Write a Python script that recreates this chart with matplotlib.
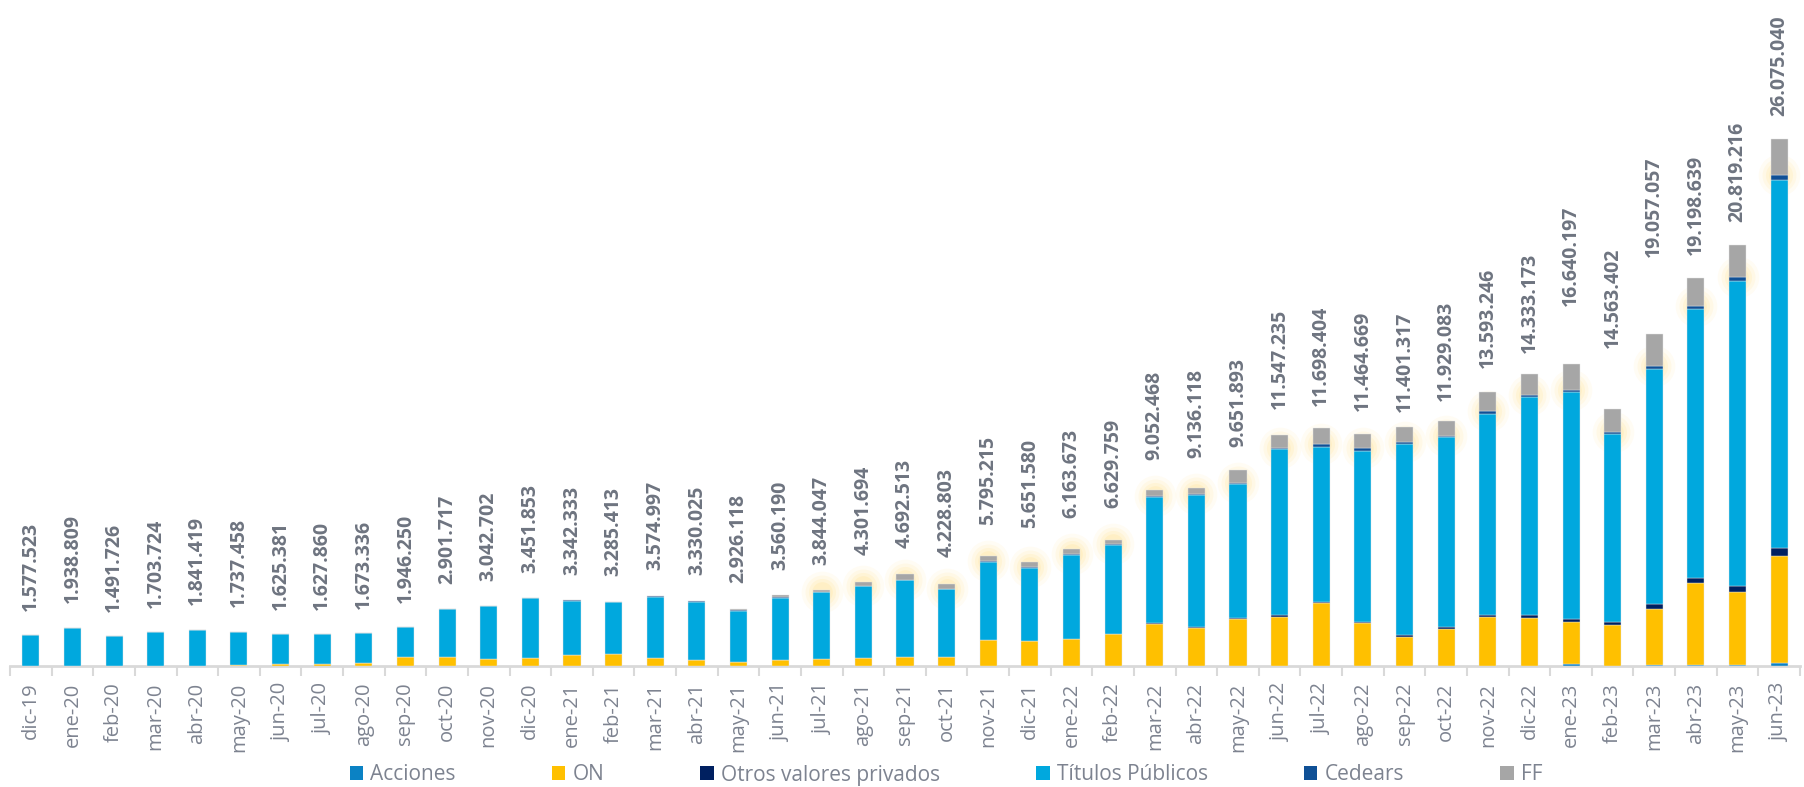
import matplotlib
matplotlib.use('Agg')
import matplotlib.pyplot as plt
import numpy as np
from matplotlib.patches import Patch

# meses
months = ['dic-19', 'ene-20', 'feb-20', 'mar-20', 'abr-20', 'may-20', 'jun-20', 'jul-20',
          'ago-20', 'sep-20', 'oct-20', 'nov-20', 'dic-20', 'ene-21', 'feb-21', 'mar-21',
          'abr-21', 'may-21', 'jun-21', 'jul-21', 'ago-21', 'sep-21', 'oct-21', 'nov-21',
          'dic-21', 'ene-22', 'feb-22', 'mar-22', 'abr-22', 'may-22', 'jun-22', 'jul-22',
          'ago-22', 'sep-22', 'oct-22', 'nov-22', 'dic-22', 'ene-23', 'feb-23', 'mar-23',
          'abr-23', 'may-23', 'jun-23']

# millones
acciones = [0.01] * 37 + [0.10, 0.01, 0.05, 0.05, 0.05, 0.16]
on = [0, 0, 0, 0, 0, 0.02, 0.10, 0.10, 0.16, 0.43, 0.43, 0.33, 0.38, 0.53, 0.56, 0.41,
      0.31, 0.18, 0.28, 0.33, 0.41, 0.46, 0.46, 1.27, 1.22, 1.35, 1.55, 2.09, 1.85, 2.31,
      2.44, 3.10, 2.11, 1.44, 1.82, 2.41, 2.38, 2.08, 2.01, 2.77, 4.06, 3.61, 5.28]
otros = [0] * 26 + [0.02, 0.05, 0.05, 0.05, 0.06, 0.06, 0.06, 0.06, 0.08, 0.10, 0.15,
                    0.16, 0.15, 0.26, 0.26, 0.31, 0.40]
titulos = [1.53, 1.88, 1.47, 1.65, 1.78, 1.66, 1.47, 1.47, 1.44, 1.47, 2.38, 2.62, 2.97,
           2.69, 2.59, 2.99, 2.84, 2.55, 3.08, 3.30, 3.53, 3.78, 3.33, 3.85, 3.60, 4.12,
           4.42, 6.22, 6.57, 6.65, 8.23, 7.69, 8.47, 9.49, 9.44, 9.98, 10.76, 11.21, 9.32,
           11.63, 13.30, 15.08, 18.23]
cedears = [0] * 8 + [0.02] * 7 + [0.05, 0.05, 0.03, 0.03, 0.03, 0.03, 0.03, 0.03, 0.05,
                                  0.05, 0.05, 0.05, 0.05, 0.05, 0.06, 0.06, 0.13, 0.13,
                                  0.10, 0.06, 0.12, 0.10, 0.11, 0.10, 0.13, 0.15, 0.20, 0.23]
ff = [0] * 17 + [0.06, 0.10, 0.11, 0.20, 0.26, 0.25, 0.26, 0.25, 0.25, 0.21, 0.30, 0.26,
                 0.63, 0.64, 0.81, 0.69, 0.71, 0.71, 0.92, 1.07, 1.29, 1.14, 1.58, 1.37,
                 1.57, 1.78]

totales = ['1.577.523', '1.938.809', '1.491.726', '1.703.724', '1.841.419', '1.737.458',
           '1.625.381', '1.627.860', '1.673.336', '1.946.250', '2.901.717', '3.042.702',
           '3.451.853', '3.342.333', '3.285.413', '3.574.997', '3.330.025', '2.926.118',
           '3.560.190', '3.844.047', '4.301.694', '4.692.513', '4.228.803', '5.795.215',
           '5.651.580', '6.163.673', '6.629.759', '9.052.468', '9.136.118', '9.651.893',
           '11.547.235', '11.698.404', '11.464.669', '11.401.317', '11.929.083',
           '13.593.246', '14.333.173', '16.640.197', '14.563.402', '19.057.057',
           '19.198.639', '20.819.216', '26.075.040']

series = [('Acciones', acciones, '#0b82c4'),
          ('ON', on, '#ffc000'),
          ('Otros valores privados', otros, '#002060'),
          ('Títulos Públicos', titulos, '#00a8de'),
          ('Cedears', cedears, '#0f5096'),
          ('FF', ff, '#a6a6a6')]

plt.rcParams['font.family'] = ['Open Sans', 'DejaVu Sans']

fig = plt.figure(figsize=(18.04, 7.87), dpi=100)
ax = fig.add_axes([10 / 1804, 121 / 787, 1790 / 1804, 666 / 787])

x = np.arange(len(months))
bottom = np.zeros(len(months))
for name, vals, color in series:
    ax.bar(x, vals, width=0.41, bottom=bottom, color=color, zorder=3,
           edgecolor='#e6e6e6', linewidth=0.3)
    bottom += np.array(vals)
    if name == 'Cedears':
        glow_y = bottom.copy()

# resplandor amarillo detras de las barras
g = np.arange(19, len(months))
for s, a in [(900, 0.06), (600, 0.08), (380, 0.10), (220, 0.12)]:
    ax.scatter(x[g], glow_y[g], s=s, color='#ffd24d', alpha=a, linewidths=0, zorder=2)

for i, lab in enumerate(totales):
    val = float(lab.replace('.', '')) / 1e6
    ax.annotate(lab, (x[i], val), xytext=(0, 17), textcoords='offset points',
                rotation=90, ha='center', va='bottom', fontsize=14,
                fontweight='bold', color='#6e7480')

ax.set_xlim(-0.5, len(months) - 0.5)
ax.set_ylim(0, 666 / 20.2)
ax.set_xticks(x)
ax.set_xticklabels(months, rotation=90, fontsize=14.5, color='#7d8390')
ax.set_xticks(np.arange(-0.5, len(months)), minor=True)
ax.tick_params(axis='x', which='major', length=0, pad=12)
ax.tick_params(axis='x', which='minor', length=7, width=1.5, color='#d9d9d9')
ax.set_yticks([])
for sp in ['top', 'left', 'right']:
    ax.spines[sp].set_visible(False)
ax.spines['bottom'].set_color('#d9d9d9')
ax.spines['bottom'].set_linewidth(2)

handles = [Patch(facecolor=c, label=n) for n, v, c in series]
fig.legend(handles=handles, loc='center', bbox_to_anchor=(946 / 1804, 1 - 775 / 787),
           ncol=6, frameon=False, fontsize=15, labelcolor='#7d8390',
           handlelength=0.65, handleheight=0.65, handletextpad=0.35, columnspacing=4.6)

fig.savefig('out.png', dpi=100)
